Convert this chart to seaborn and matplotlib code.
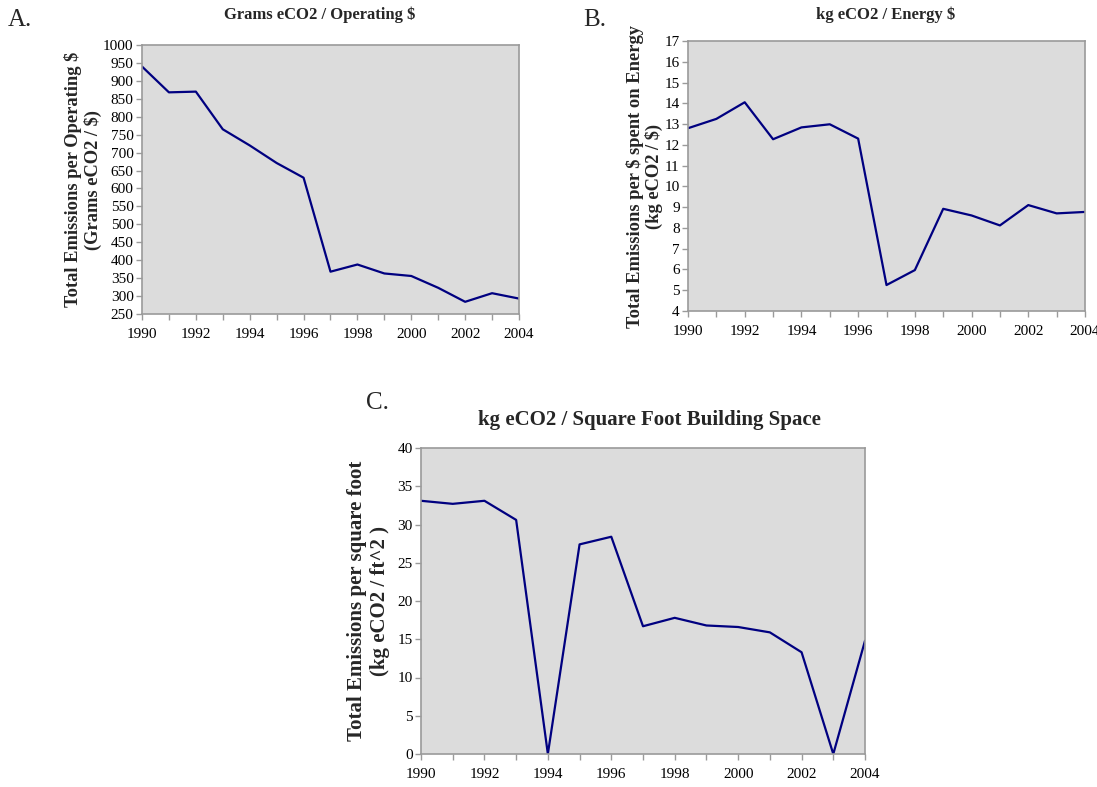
import matplotlib
matplotlib.use("Agg")
import matplotlib.pyplot as plt
import seaborn as sns
import pandas as pd

years = list(range(1990, 2005))

grams_per_operating_dollar = [940, 868, 870, 765, 720, 671, 630, 368, 388, 363,
                              356, 323, 284, 308, 293]
kg_per_energy_dollar = [12.8, 13.25, 14.05, 12.27, 12.84, 12.99, 12.3, 5.25, 5.97,
                        8.92, 8.6, 8.12, 9.1, 8.7, 8.77]
kg_per_square_foot = [33.1, 32.7, 33.1, 30.6, 0, 27.4, 28.4, 16.7, 17.8, 16.8,
                      16.6, 15.9, 13.3, 0, 14.8]

panel_letters = ["A.", "B.", "C."]
titles = ["Grams eCO2 / Operating $",
          "kg eCO2 / Energy $",
          "kg eCO2 / Square Foot Building Space"]
ylabels = ["Total Emissions per Operating $\n(Grams eCO2 / $)",
           "Total Emissions per $ spent on Energy\n(kg eCO2 / $)",
           "Total Emissions per square foot\n(kg eCO2 / ft^2 )"]
x_ticks = list(range(1990, 2005, 2))

sns.set_theme(style="white")
plt.rcParams["font.family"] = ["Liberation Serif", "DejaVu Serif"]

fig = plt.figure(figsize=(10.97, 7.87), dpi=100)

BG = "#dcdcdc"
SPINE = "#9a9a9a"
LINE = "#000080"

panels = [
    dict(rect=[142 / 1097, 1 - 314 / 787, 377 / 1097, 269 / 787],
         values=grams_per_operating_dollar, ylim=(250, 1000), ystep=50,
         letter_xy=(8 / 1097, 1 - 20 / 787), title_xy=(320 / 1097, 1 - 15 / 787),
         title_size=12, label_size=13.3, linespacing=1.15, labelpad=1),
    dict(rect=[688 / 1097, 1 - 311 / 787, 397 / 1097, 270 / 787],
         values=kg_per_energy_dollar, ylim=(4, 17), ystep=1,
         letter_xy=(583 / 1097, 1 - 20 / 787), title_xy=(886 / 1097, 1 - 15 / 787),
         title_size=12, label_size=13.3, linespacing=1.1, labelpad=1),
    dict(rect=[421 / 1097, 1 - 754 / 787, 444 / 1097, 306 / 787],
         values=kg_per_square_foot, ylim=(0, 40), ystep=5,
         letter_xy=(366 / 1097, 1 - 403 / 787), title_xy=(649 / 1097, 1 - 420 / 787),
         title_size=15, label_size=15, linespacing=1.25, labelpad=5),
]

for i, p in enumerate(panels):
    ax = fig.add_axes(p["rect"])
    df = pd.DataFrame({"year": years, "value": p["values"]})
    sns.lineplot(data=df, x="year", y="value", ax=ax, color=LINE, linewidth=1.6)
    ax.set_facecolor(BG)
    ax.set_xlim(1990, 2004)
    lo, hi = p["ylim"]
    ax.set_ylim(lo, hi)
    yt = list(range(lo, hi + 1, p["ystep"]))
    ax.set_yticks(yt)
    ax.set_yticklabels([str(v) for v in yt])
    ax.set_xticks(years, minor=True)
    ax.set_xticks(x_ticks)
    ax.set_xticklabels([str(v) for v in x_ticks])
    ax.tick_params(axis="both", which="both", direction="out", length=4,
                   width=1, color=SPINE, labelsize=11, labelcolor="black")
    ax.tick_params(axis="x", which="both", bottom=True, length=4, pad=6)
    ax.tick_params(axis="y", left=True, pad=2)
    for s in ax.spines.values():
        s.set_visible(True)
        s.set_color(SPINE)
        s.set_linewidth(1.2)
    ax.set_xlabel("")
    ax.set_ylabel(ylabels[i], fontsize=p["label_size"], fontweight="bold",
                  linespacing=p["linespacing"], labelpad=p["labelpad"])
    fig.text(p["title_xy"][0], p["title_xy"][1], titles[i], ha="center",
             va="center", fontsize=p["title_size"], fontweight="bold")
    fig.text(p["letter_xy"][0], p["letter_xy"][1], panel_letters[i],
             ha="left", va="center", fontsize=18)

fig.savefig("out.png", dpi=100)
